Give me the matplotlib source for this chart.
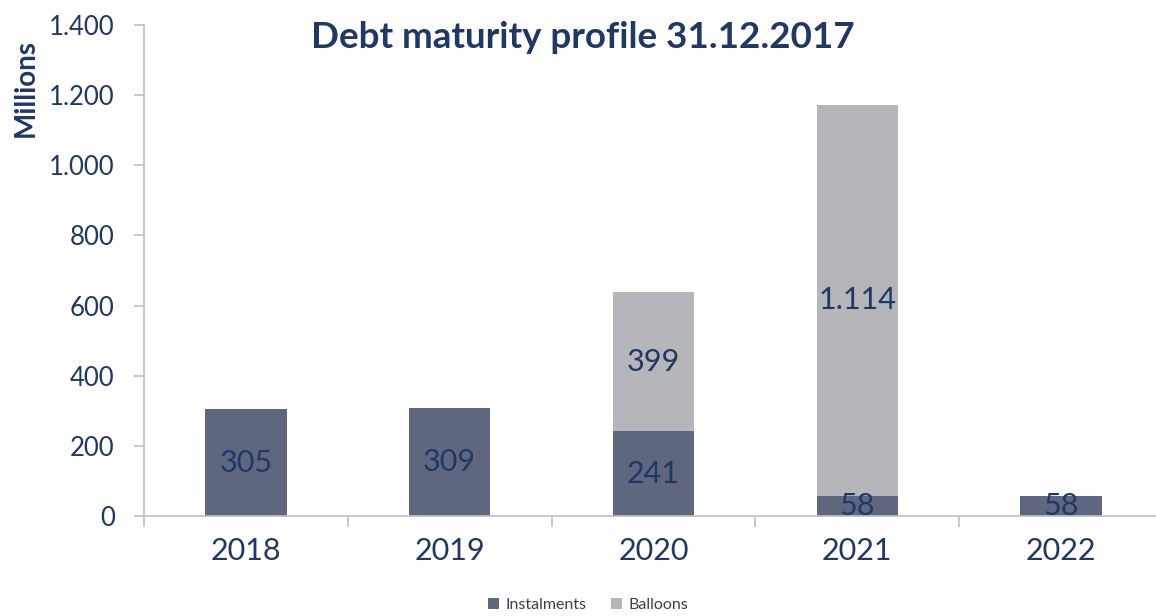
import matplotlib.pyplot as plt
from matplotlib.ticker import FuncFormatter
import numpy as np

plt.rcParams['font.family'] = ['Lato', 'DejaVu Sans']

years = ['2018', '2019', '2020', '2021', '2022']
instalments = [305, 309, 241, 58, 58]
balloons = [0, 0, 399, 1114, 0]

inst_color = '#5f6780'
ball_color = '#b4b6ba'
text_color = '#1f3864'
axis_color = '#bfbfbf'

fig = plt.figure(figsize=(11.56, 6.16), dpi=100)
# axes spans x 144..1163 px, y 25..516 px
ax = fig.add_axes([144 / 1156, 1 - 516 / 616, (1163 - 144) / 1156, (516 - 25) / 616])

x = np.arange(len(years))
w = 0.4
ax.bar(x, instalments, w, color=inst_color, label='Instalments', zorder=2)
ax.bar(x, balloons, w, bottom=instalments, color=ball_color, label='Balloons', zorder=2)

def fmt(v):
    return f'{v:,.0f}'.replace(',', '.')

for i in range(len(years)):
    ax.text(x[i], instalments[i] / 2, fmt(instalments[i]), ha='center', va='center',
            fontsize=22, color=text_color)
    if balloons[i] > 0:
        ax.text(x[i], instalments[i] + balloons[i] / 2, fmt(balloons[i]), ha='center',
                va='center', fontsize=22, color=text_color)

ax.set_xlim(-0.5, 4.5)
ax.set_ylim(0, 1400)
ax.set_yticks(range(0, 1401, 200))
ax.yaxis.set_major_formatter(FuncFormatter(lambda v, p: fmt(v)))
ax.set_xticks(x)
ax.set_xticklabels(years)
ax.set_xticks(np.arange(-0.5, 4.6, 1), minor=True)

for s in ['top', 'right']:
    ax.spines[s].set_visible(False)
ax.spines['left'].set_color(axis_color)
ax.spines['bottom'].set_color(axis_color)
ax.spines['left'].set_linewidth(1.2)
ax.spines['bottom'].set_linewidth(1.2)

ax.tick_params(axis='y', colors=axis_color, labelcolor=text_color, labelsize=18.5,
               length=7, width=1.2, pad=14)
ax.tick_params(axis='x', which='major', length=0, labelcolor=text_color, labelsize=22, pad=15)
ax.tick_params(axis='x', which='minor', length=8, width=1.2, color=axis_color)

fig.text(26 / 1156, 1 - 88 / 616, 'Millions', rotation=90, ha='center', va='center',
         fontsize=20, fontweight='bold', color=text_color)
fig.text(583 / 1156, 1 - 38 / 616, 'Debt maturity profile 31.12.2017', ha='center', va='center',
         fontsize=26.5, fontweight='bold', color=text_color)

fig.legend(loc='center', bbox_to_anchor=(588 / 1156, 1 - 605 / 616), ncol=2, frameon=False,
           fontsize=11.5, handlelength=0.7, handleheight=0.7, handletextpad=0.4, columnspacing=1.5,
           labelcolor='#404040')

fig.savefig('out.png', dpi=100)
